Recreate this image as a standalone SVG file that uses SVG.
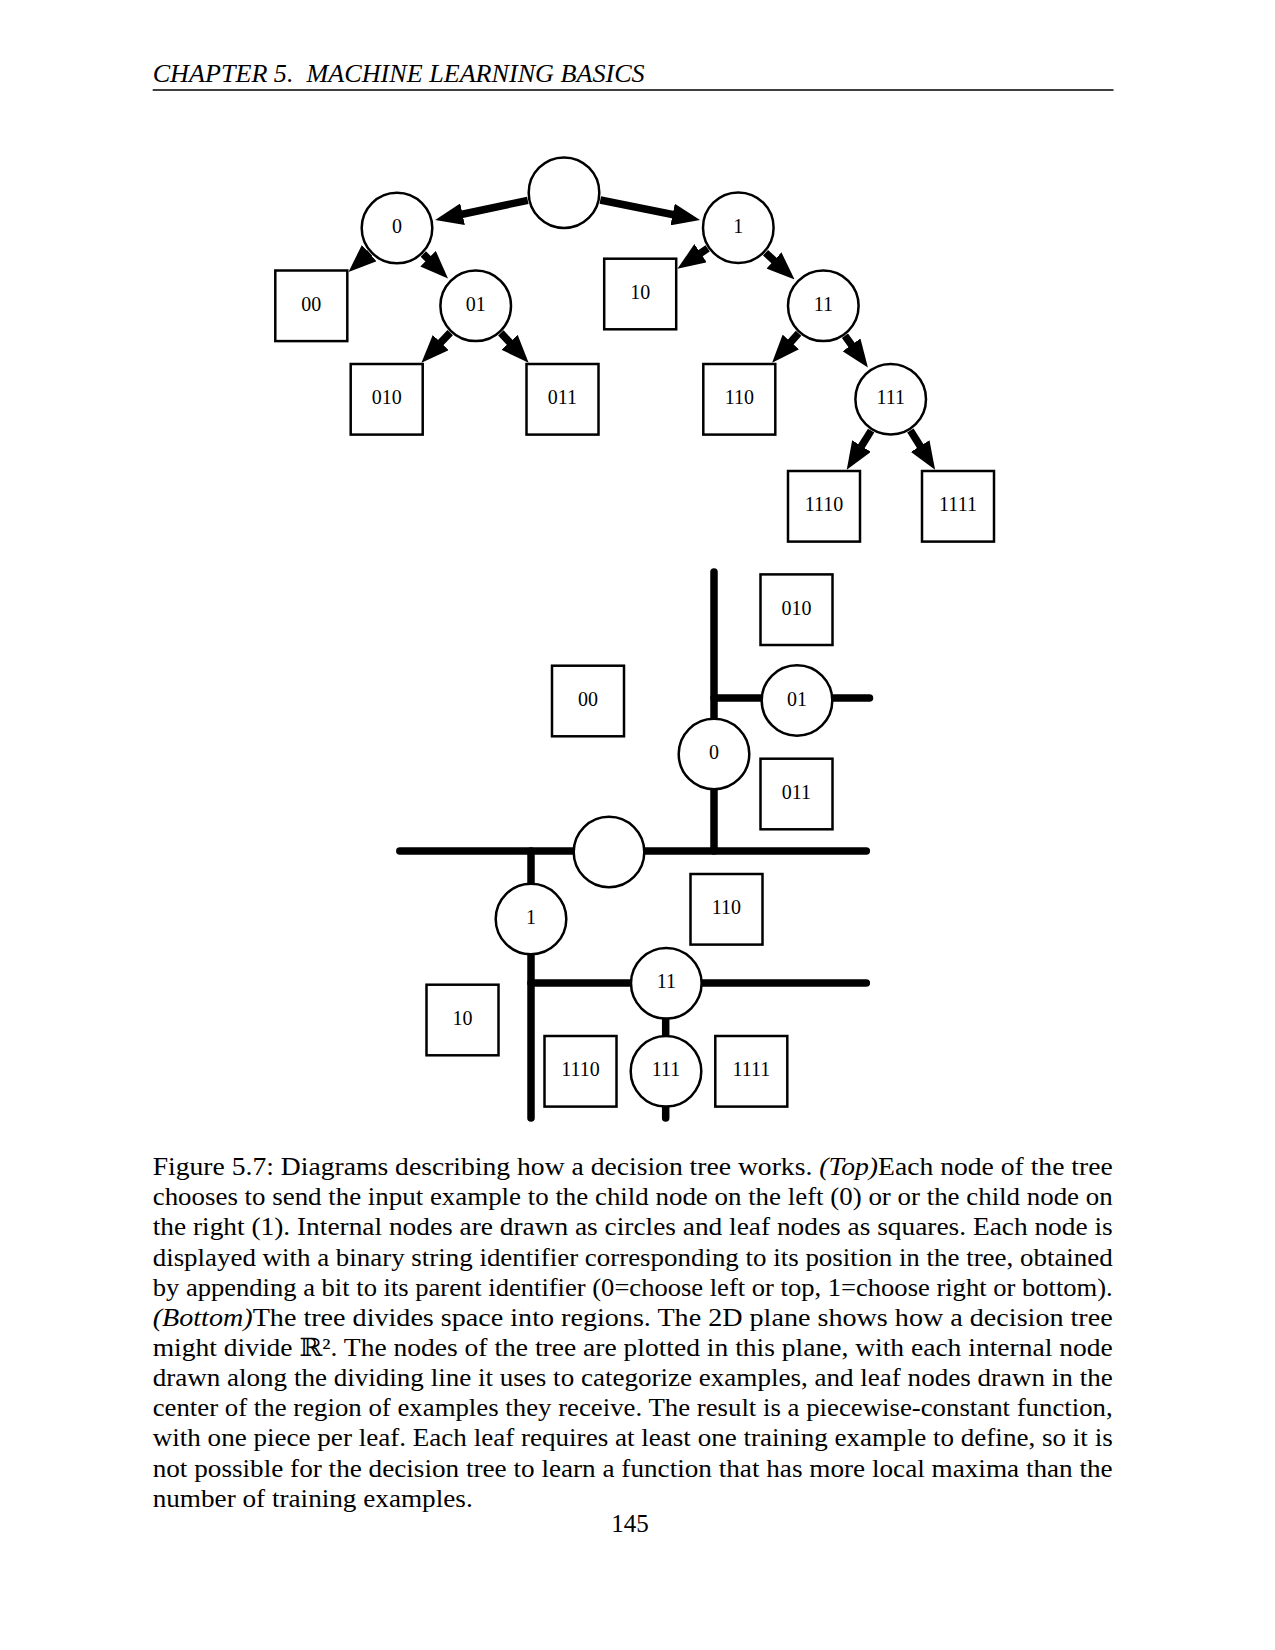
<svg xmlns="http://www.w3.org/2000/svg" width="1275" height="1650" viewBox="0 0 1275 1650">
<style>
.nd circle, .nd rect { fill:#fff; stroke:#000; stroke-width:2.5; }
.lbl { font-family:"Liberation Serif","DejaVu Serif",serif; font-size:20px; text-anchor:middle; fill:#000; }
.edge { stroke:#000; stroke-width:7.5; fill:none; marker-end:url(#ah); }
.split { stroke:#000; stroke-width:7.5; stroke-linecap:round; fill:none; }
.cap { font-family:"Liberation Serif","DejaVu Serif",serif; font-size:25px; fill:#000; }
.it { font-style:italic; }
</style>
<defs>
<marker id="ah" markerUnits="userSpaceOnUse" viewBox="0 0 28 22" markerWidth="28" markerHeight="22" refX="10" refY="11" orient="auto">
<path d="M0,0 L28,11 L0,22 z" fill="#000"/>
</marker>
</defs>
<rect width="1275" height="1650" fill="#fff"/>

<!-- header -->
<text class="cap it" x="152.7" y="81.7" font-size="24" textLength="492" lengthAdjust="spacingAndGlyphs" xml:space="preserve">CHAPTER 5.  MACHINE LEARNING BASICS</text>
<line x1="152.7" y1="90" x2="1113.5" y2="90" stroke="#000" stroke-width="1.4"/>

<!-- top tree connectors -->
<g id="top-connectors">
<line class="edge" x1="527.8" y1="200.35" x2="452.77" y2="216.21"/>
<line class="edge" x1="600.28" y1="199.98" x2="682.41" y2="216.48"/>
<line class="edge" x1="369.61" y1="252.87" x2="361.83" y2="259.93"/>
<line class="edge" x1="423.31" y1="254.01" x2="435.17" y2="265.73"/>
<line class="edge" x1="450.19" y1="332.6" x2="433.85" y2="349.76"/>
<line class="edge" x1="500.87" y1="332.92" x2="516.37" y2="349.61"/>
<line class="edge" x1="707.64" y1="248.42" x2="692.31" y2="258.78"/>
<line class="edge" x1="765.55" y1="252.73" x2="781.33" y2="267.23"/>
<line class="edge" x1="798.57" y1="333.32" x2="784.12" y2="349.41"/>
<line class="edge" x1="844.95" y1="335.8" x2="857.35" y2="352.97"/>
<line class="edge" x1="871.14" y1="430.61" x2="856.25" y2="454.52"/>
<line class="edge" x1="910.39" y1="430.53" x2="925.49" y2="454.56"/>
</g>

<!-- top tree nodes -->
<g id="top-root" class="nd"><circle cx="564" cy="192.7" r="35.3"/></g>
<g id="top-n0" class="nd"><circle cx="397" cy="228" r="35.3"/><text class="lbl" x="397" y="233">0</text></g>
<g id="top-n1" class="nd"><circle cx="738.3" cy="227.7" r="35.3"/><text class="lbl" x="738.3" y="232.7">1</text></g>
<g id="top-n00" class="nd"><rect x="275.3" y="270.5" width="72" height="70.6"/><text class="lbl" x="311.3" y="310.8">00</text></g>
<g id="top-n01" class="nd"><circle cx="475.7" cy="305.8" r="35.3"/><text class="lbl" x="475.7" y="310.8">01</text></g>
<g id="top-n10" class="nd"><rect x="604.2" y="258.7" width="72" height="70.6"/><text class="lbl" x="640.2" y="299">10</text></g>
<g id="top-n11" class="nd"><circle cx="823.3" cy="305.8" r="35.3"/><text class="lbl" x="823.3" y="310.8">11</text></g>
<g id="top-n010" class="nd"><rect x="350.7" y="364" width="72" height="70.6"/><text class="lbl" x="386.7" y="404.3">010</text></g>
<g id="top-n011" class="nd"><rect x="526.5" y="364" width="72" height="70.6"/><text class="lbl" x="562.5" y="404.3">011</text></g>
<g id="top-n110" class="nd"><rect x="703.3" y="364" width="72" height="70.6"/><text class="lbl" x="739.3" y="404.3">110</text></g>
<g id="top-n111" class="nd"><circle cx="890.7" cy="399.2" r="35.3"/><text class="lbl" x="890.7" y="404.2">111</text></g>
<g id="top-n1110" class="nd"><rect x="788" y="471" width="72" height="70.6"/><text class="lbl" x="824" y="511.3">1110</text></g>
<g id="top-n1111" class="nd"><rect x="922" y="471" width="72" height="70.6"/><text class="lbl" x="958" y="511.3">1111</text></g>

<!-- bottom plane dividing lines -->
<g id="bottom-connectors">
<line class="split" x1="399.8" y1="851" x2="866.3" y2="851"/>
<line class="split" x1="714" y1="572" x2="714" y2="851"/>
<line class="split" x1="714" y1="698" x2="869.5" y2="698"/>
<line class="split" x1="531" y1="851" x2="531" y2="1118"/>
<line class="split" x1="531" y1="983" x2="866.3" y2="983"/>
<line class="split" x1="665.7" y1="983" x2="665.7" y2="1118"/>
</g>

<!-- bottom plane nodes -->
<g id="bot-root" class="nd"><circle cx="609" cy="852" r="35.3"/></g>
<g id="bot-n0" class="nd"><circle cx="714" cy="754" r="35.3"/><text class="lbl" x="714" y="759">0</text></g>
<g id="bot-n01" class="nd"><circle cx="797" cy="700.5" r="35.3"/><text class="lbl" x="797" y="705.5">01</text></g>
<g id="bot-n010" class="nd"><rect x="760.5" y="574.4" width="72" height="70.6"/><text class="lbl" x="796.5" y="614.7">010</text></g>
<g id="bot-n00" class="nd"><rect x="552" y="665.7" width="72" height="70.6"/><text class="lbl" x="588" y="706">00</text></g>
<g id="bot-n011" class="nd"><rect x="760.5" y="758.7" width="72" height="70.6"/><text class="lbl" x="796.5" y="799">011</text></g>
<g id="bot-n1" class="nd"><circle cx="531" cy="919" r="35.3"/><text class="lbl" x="531" y="924">1</text></g>
<g id="bot-n110" class="nd"><rect x="690.5" y="874" width="72" height="70.6"/><text class="lbl" x="726.5" y="914.3">110</text></g>
<g id="bot-n11" class="nd"><circle cx="666.3" cy="983.3" r="35.3"/><text class="lbl" x="666.3" y="988.3">11</text></g>
<g id="bot-n10" class="nd"><rect x="426.5" y="984.7" width="72" height="70.6"/><text class="lbl" x="462.5" y="1025">10</text></g>
<g id="bot-n1110" class="nd"><rect x="544.5" y="1036" width="72" height="70.6"/><text class="lbl" x="580.5" y="1076.3">1110</text></g>
<g id="bot-n111" class="nd"><circle cx="666" cy="1071.3" r="35.3"/><text class="lbl" x="666" y="1076.3">111</text></g>
<g id="bot-n1111" class="nd"><rect x="715.3" y="1036" width="72" height="70.6"/><text class="lbl" x="751.3" y="1076.3">1111</text></g>

<!-- caption -->
<g id="caption">
<text class="cap" x="152.7" y="1175" textLength="960" lengthAdjust="spacingAndGlyphs">Figure 5.7: Diagrams describing how a decision tree works. <tspan class="it">(Top)</tspan>Each node of the tree</text>
<text class="cap" x="152.7" y="1205.2" textLength="960" lengthAdjust="spacingAndGlyphs">chooses to send the input example to the child node on the left (0) or or the child node on</text>
<text class="cap" x="152.7" y="1235.3" textLength="960" lengthAdjust="spacingAndGlyphs">the right (1). Internal nodes are drawn as circles and leaf nodes as squares. Each node is</text>
<text class="cap" x="152.7" y="1265.5" textLength="960" lengthAdjust="spacingAndGlyphs">displayed with a binary string identifier corresponding to its position in the tree, obtained</text>
<text class="cap" x="152.7" y="1295.6" textLength="960" lengthAdjust="spacingAndGlyphs">by appending a bit to its parent identifier (0=choose left or top, 1=choose right or bottom).</text>
<text class="cap" x="152.7" y="1325.8" textLength="960" lengthAdjust="spacingAndGlyphs"><tspan class="it">(Bottom)</tspan>The tree divides space into regions. The 2D plane shows how a decision tree</text>
<text class="cap" x="152.7" y="1355.9" textLength="960" lengthAdjust="spacingAndGlyphs">might divide ℝ². The nodes of the tree are plotted in this plane, with each internal node</text>
<text class="cap" x="152.7" y="1386.1" textLength="960" lengthAdjust="spacingAndGlyphs">drawn along the dividing line it uses to categorize examples, and leaf nodes drawn in the</text>
<text class="cap" x="152.7" y="1416.2" textLength="960" lengthAdjust="spacingAndGlyphs">center of the region of examples they receive. The result is a piecewise-constant function,</text>
<text class="cap" x="152.7" y="1446.4" textLength="960" lengthAdjust="spacingAndGlyphs">with one piece per leaf. Each leaf requires at least one training example to define, so it is</text>
<text class="cap" x="152.7" y="1476.5" textLength="960" lengthAdjust="spacingAndGlyphs">not possible for the decision tree to learn a function that has more local maxima than the</text>
<text class="cap" x="152.7" y="1506.7" textLength="320" lengthAdjust="spacingAndGlyphs">number of training examples.</text>
<text class="cap" x="630" y="1532" text-anchor="middle">145</text>
</g>
</svg>
